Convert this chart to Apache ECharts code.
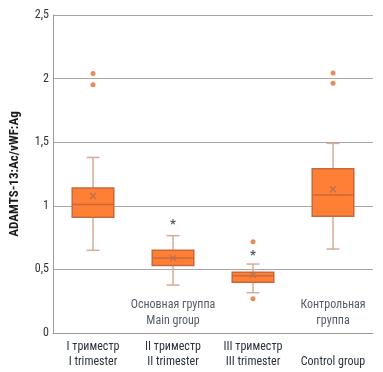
<!DOCTYPE html>
<html><head><meta charset="utf-8">
<script src="https://cdn.jsdelivr.net/npm/echarts@6/dist/echarts.min.js"></script>
<style>html,body{margin:0;padding:0;background:#fff}#c{width:383px;height:372px}</style>
</head><body><div id="c"></div>
<script>
const categories = ['I триместр\nI trimester', 'II триместр\nII trimester', 'III триместр\nIII trimester', '\nControl group'];
// [min, Q1, median, Q3, max]
const boxValues = [
  [0.65, 0.91, 1.01, 1.14, 1.38],
  [0.377, 0.53, 0.59, 0.65, 0.765],
  [0.317, 0.398, 0.45, 0.477, 0.542],
  [0.66, 0.917, 1.085, 1.292, 1.491]
];
const meanValues = [1.077, 0.59, 0.456, 1.13];
const outliers = [[0, 2.04], [0, 1.952], [2, 0.718], [2, 0.27], [3, 2.044], [3, 1.963]];
const stars = [[1, 0.85], [2, 0.61]];
const groupLabels = [[1, 0.16, 'Основная группа\nMain group'], [3, 0.16, 'Контрольная\nгруппа']];
const yTicks = {0: '0', 0.5: '0,5', 1: '1', 1.5: '1,5', 2: '2', 2.5: '2,5'};

const FONT = "'Liberation Sans Narrow', 'Roboto Condensed', 'DejaVu Sans Condensed', sans-serif";
const chart = echarts.init(document.getElementById('c'));
chart.setOption({
  animation: false,
  grid: {left: 47, right: 10, top: 15, bottom: 39},
  xAxis: {
    type: 'category', data: categories,
    axisLine: {lineStyle: {color: '#9a9a9a', width: 1}},
    axisTick: {show: false},
    axisLabel: {color: '#2b3340', fontSize: 12, fontFamily: FONT, lineHeight: 15, margin: 6, interval: 0}
  },
  yAxis: {
    type: 'value', min: 0, max: 2.5, interval: 0.5,
    name: 'ADAMTS-13:Ac/vWF:Ag', nameLocation: 'middle', nameGap: 32,
    nameTextStyle: {fontWeight: 'bold', fontSize: 13, color: '#1a1a1a', fontFamily: FONT},
    axisLine: {show: true, lineStyle: {color: '#9a9a9a'}},
    axisTick: {show: false},
    splitLine: {lineStyle: {color: '#a6a6a6'}},
    axisLabel: {color: '#333', fontSize: 12, fontFamily: FONT, margin: 4, formatter: v => yTicks[v] !== undefined ? yTicks[v] : ''}
  },
  series: [
    {
      type: 'custom',
      data: boxValues.map((b, i) => [i, ...b, meanValues[i]]),
      encode: {x: 0, y: [1, 2, 3, 4, 5]},
      renderItem: function (params, api) {
        const i = api.value(0);
        const band = api.size([1, 0])[0];
        const bw = band * 0.52, cap = 13;
        const p = k => api.coord([i, api.value(k)]);
        const pMin = p(1), pQ1 = p(2), pMed = p(3), pQ3 = p(4), pMax = p(5), pMean = p(6);
        const cx = pMin[0];
        const wStyle = {stroke: '#d7ab95', lineWidth: 1.5};
        const m = 3;
        return {type: 'group', children: [
          {type: 'line', shape: {x1: cx, y1: pMax[1], x2: cx, y2: pQ3[1]}, style: wStyle},
          {type: 'line', shape: {x1: cx, y1: pMin[1], x2: cx, y2: pQ1[1]}, style: wStyle},
          {type: 'line', shape: {x1: cx - cap / 2, y1: pMax[1], x2: cx + cap / 2, y2: pMax[1]}, style: wStyle},
          {type: 'line', shape: {x1: cx - cap / 2, y1: pMin[1], x2: cx + cap / 2, y2: pMin[1]}, style: wStyle},
          {type: 'rect', shape: {x: cx - bw / 2, y: pQ3[1], width: bw, height: pQ1[1] - pQ3[1]},
            style: {fill: '#ff7f35', stroke: '#c8693c', lineWidth: 1.5}},
          {type: 'line', shape: {x1: cx - bw / 2, y1: pMed[1], x2: cx + bw / 2, y2: pMed[1]}, style: {stroke: '#c8693c', lineWidth: 1.5}},
          {type: 'line', shape: {x1: cx - m, y1: pMean[1] - m, x2: cx + m, y2: pMean[1] + m}, style: {stroke: '#b9714f', lineWidth: 1.2}},
          {type: 'line', shape: {x1: cx - m, y1: pMean[1] + m, x2: cx + m, y2: pMean[1] - m}, style: {stroke: '#b9714f', lineWidth: 1.2}}
        ]};
      }
    },
    {
      type: 'scatter', data: outliers, symbolSize: 5,
      itemStyle: {color: '#e46d2f'}
    },
    {
      type: 'scatter', data: stars, symbolSize: 2,
      itemStyle: {color: 'rgba(0,0,0,0)'},
      label: {show: true, formatter: '*', position: 'inside', color: '#1d2633', fontSize: 13, fontWeight: 'bold', fontFamily: FONT}
    },
    {
      type: 'scatter', data: groupLabels, symbolSize: 2,
      itemStyle: {color: 'rgba(0,0,0,0)'},
      label: {show: true, position: 'inside', formatter: p => p.data[2], color: '#2b3340', fontSize: 12, lineHeight: 16, fontFamily: FONT}
    }
  ]
});
</script></body></html>
